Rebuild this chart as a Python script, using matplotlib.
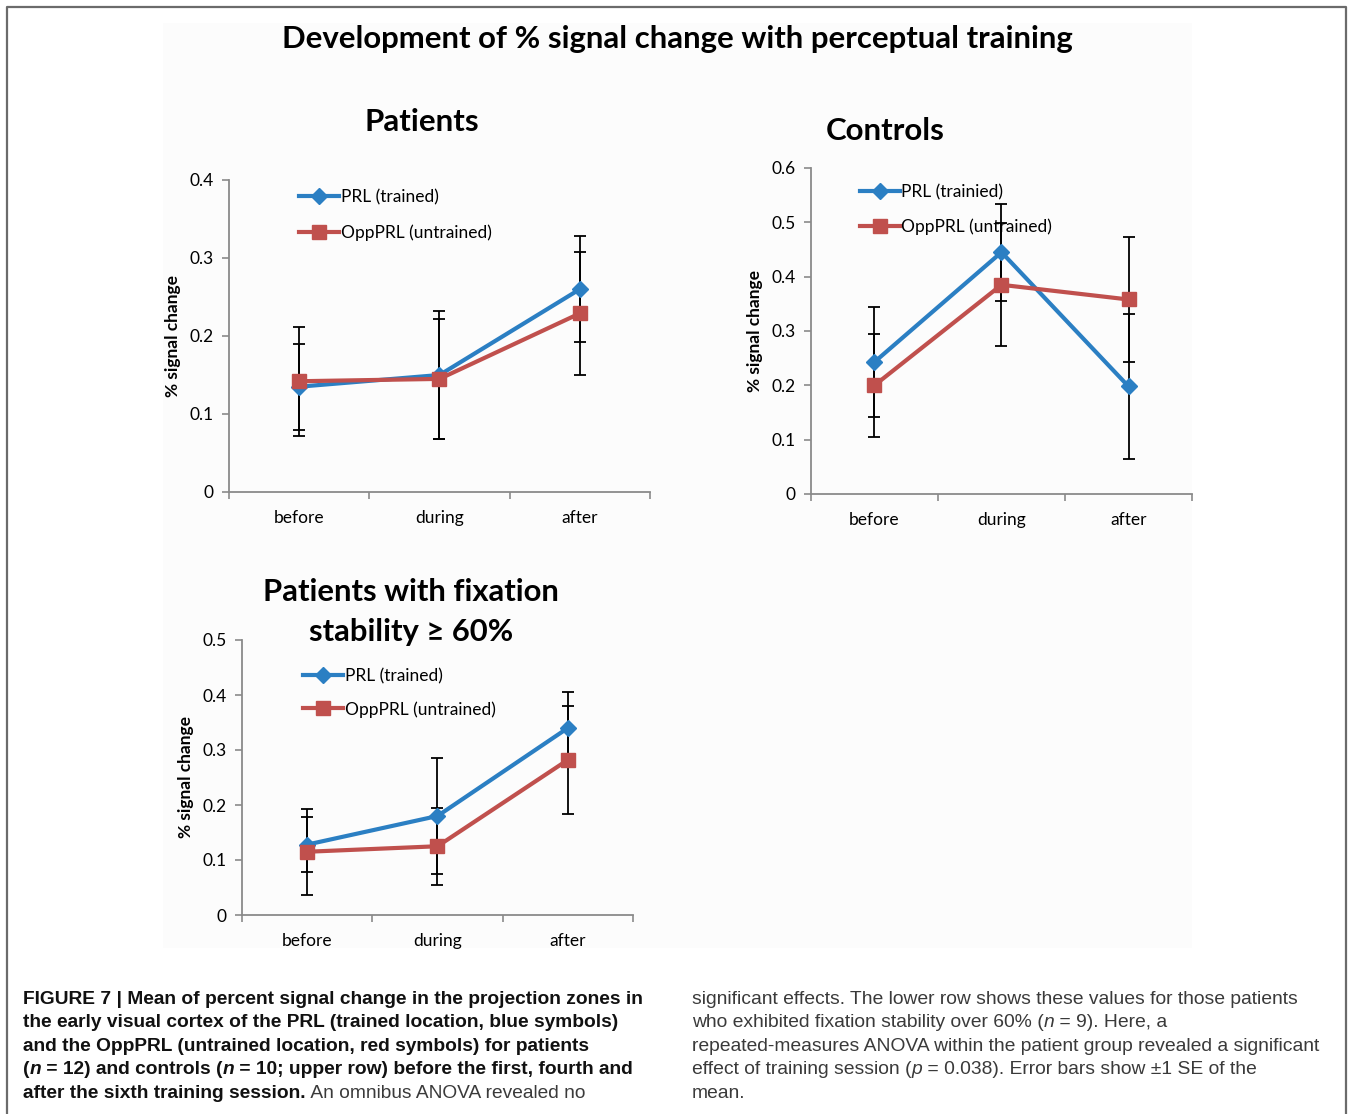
import numpy as np
import matplotlib
matplotlib.use("Agg")
import matplotlib.pyplot as plt
from matplotlib.lines import Line2D
from matplotlib.patches import Rectangle

# --- data -------------------------------------------------------------
sessions = ["before", "during", "after"]

patients_prl = [0.135, 0.150, 0.260]
patients_prl_se = [0.055, 0.082, 0.068]
patients_opp = [0.142, 0.145, 0.229]
patients_opp_se = [0.070, 0.077, 0.079]

controls_prl = [0.243, 0.445, 0.198]
controls_prl_se = [0.102, 0.089, 0.133]
controls_opp = [0.200, 0.385, 0.358]
controls_opp_se = [0.095, 0.113, 0.115]

fixation_prl = [0.128, 0.180, 0.340]
fixation_prl_se = [0.050, 0.105, 0.065]
fixation_opp = [0.115, 0.125, 0.282]
fixation_opp_se = [0.078, 0.070, 0.098]

# --- styling ----------------------------------------------------------
W, H = 1350, 1114
BLUE = "#2b7fc3"
RED = "#c0504d"
AXIS_GREY = "#8a8a8a"
CHART_FONT = ["Lato", "DejaVu Sans"]
CAPTION_FONT = ["Liberation Sans", "DejaVu Sans"]

plt.rcParams["font.family"] = CHART_FONT

fig = plt.figure(figsize=(W / 100, H / 100), dpi=100)


def px_box(left, top, right, bottom):
    """pixel box -> figure fraction rect"""
    return [left / W, 1 - bottom / H, (right - left) / W, (bottom - top) / H]


# page frame and the slightly off-white chart area
fig.add_artist(Line2D([7 / W, 7 / W, 1346 / W, 1346 / W],
                      [0, 1 - 7 / H, 1 - 7 / H, 0],
                      transform=fig.transFigure, color="#6b6b6b", lw=1.6))
fig.add_artist(Rectangle((163 / W, 1 - 948 / H), (1192 - 163) / W, (948 - 23) / H,
                         transform=fig.transFigure, facecolor="#fcfcfc",
                         edgecolor="none", zorder=0))


def draw_panel(box, ymax, prl, prl_se, opp, opp_se, prl_label, leg_anchor, leg_gap):
    ax = fig.add_axes(px_box(*box))
    ax.patch.set_alpha(0)
    x = np.arange(len(sessions))

    ax.errorbar(x, prl, yerr=prl_se, fmt="none", ecolor="black", elinewidth=1.3,
                capsize=4.5, capthick=1.3, zorder=2)
    ax.errorbar(x, opp, yerr=opp_se, fmt="none", ecolor="black", elinewidth=1.3,
                capsize=4.5, capthick=1.3, zorder=2)
    ax.plot(x, prl, color=BLUE, lw=3, marker="D", ms=8.5, mec=BLUE, mfc=BLUE,
            label=prl_label, zorder=3)
    ax.plot(x, opp, color=RED, lw=3, marker="s", ms=10, mec=RED, mfc=RED,
            label="OppPRL (untrained)", zorder=3)

    ax.set_xlim(-0.5, len(sessions) - 0.5)
    ax.set_ylim(0, ymax)
    ax.set_yticks(np.arange(0, ymax + 1e-9, 0.1))
    ax.set_yticklabels(["0"] + [f"{v:.1f}" for v in np.arange(0.1, ymax + 1e-9, 0.1)])

    # category labels in the middle, tick marks on the boundaries
    ax.set_xticks(x)
    ax.set_xticklabels(sessions)
    ax.set_xticks(np.arange(-0.5, len(sessions)), minor=True)
    ax.tick_params(axis="x", which="major", length=0, pad=13, labelsize=12.5)
    ax.tick_params(axis="x", which="minor", length=5, width=1.2, color=AXIS_GREY,
                   direction="out")
    ax.tick_params(axis="y", length=5, width=1.2, color=AXIS_GREY, labelsize=12.5,
                   pad=6)

    for side in ("top", "right"):
        ax.spines[side].set_visible(False)
    for side in ("left", "bottom"):
        ax.spines[side].set_color(AXIS_GREY)
        ax.spines[side].set_linewidth(1.3)

    ax.set_ylabel("% signal change", fontsize=12.5, fontweight="bold", labelpad=6)
    ax.legend(frameon=False, loc="upper left", bbox_to_anchor=leg_anchor,
              fontsize=12.5, handlelength=2.3, handletextpad=0.1,
              labelspacing=leg_gap, borderpad=0, borderaxespad=0)
    return ax


ax1 = draw_panel((229, 180, 650, 492), 0.4, patients_prl, patients_prl_se,
                 patients_opp, patients_opp_se, "PRL (trained)", (0.167, 0.971), 1.12)
ax2 = draw_panel((811, 168, 1192, 494), 0.6, controls_prl, controls_prl_se,
                 controls_opp, controls_opp_se, "PRL (trainied)", (0.128, 0.951), 1.05)
ax3 = draw_panel((242, 640, 633, 915), 0.5, fixation_prl, fixation_prl_se,
                 fixation_opp, fixation_opp_se, "PRL (trained)", (0.156, 0.897), 0.95)

# titles
def fig_text(x, y, s, **kw):
    fig.text(x / W, 1 - y / H, s, ha="center", va="center", fontweight="bold", **kw)

fig_text(677, 39, "Development of % signal change with perceptual training", fontsize=22.4)
fig_text(422, 122, "Patients", fontsize=22.5)
fig_text(885, 131, "Controls", fontsize=22.5)
fig_text(411, 592, "Patients with fixation", fontsize=22.3)
fig_text(411, 632, "stability \u2265 60%", fontsize=22.3)

# caption, drawn segment by segment so bold / italic runs line up
renderer = fig.canvas.get_renderer()


def caption_line(x0, y, segments, size):
    x = x0 / W
    for text, weight, style in segments:
        t = fig.text(x, 1 - y / H, text, fontsize=size, fontweight=weight,
                     fontstyle=style, family=CAPTION_FONT, va="center", ha="left",
                     color="#111111" if weight == "bold" else "#3a3a3a")
        bb = t.get_window_extent(renderer=renderer)
        x += bb.width / W


B, N = "bold", "normal"
left_col = [
    [("FIGURE 7 | Mean of percent signal change in the projection zones in", B, "normal")],
    [("the early visual cortex of the PRL (trained location, blue symbols)", B, "normal")],
    [("and the OppPRL (untrained location, red symbols) for patients", B, "normal")],
    [("(", B, "normal"), ("n", B, "italic"), (" = 12) and controls (", B, "normal"),
     ("n", B, "italic"), (" = 10; upper row) before the first, fourth and", B, "normal")],
    [("after the sixth training session.", B, "normal"),
     (" An omnibus ANOVA revealed no", N, "normal")],
]
right_col = [
    [("significant effects. The lower row shows these values for those patients", N, "normal")],
    [("who exhibited fixation stability over 60% (", N, "normal"), ("n", N, "italic"),
     (" = 9). Here, a", N, "normal")],
    [("repeated-measures ANOVA within the patient group revealed a significant", N, "normal")],
    [("effect of training session (", N, "normal"), ("p", N, "italic"),
     (" = 0.038). Error bars show \u00b11 SE of the", N, "normal")],
    [("mean.", N, "normal")],
]
for i, segs in enumerate(left_col):
    caption_line(23, 999 + i * 23.6, segs, 13.8)
for i, segs in enumerate(right_col):
    caption_line(692, 999 + i * 23.6, segs, 13.9)

fig.savefig("out.png", dpi=100, facecolor="white")
